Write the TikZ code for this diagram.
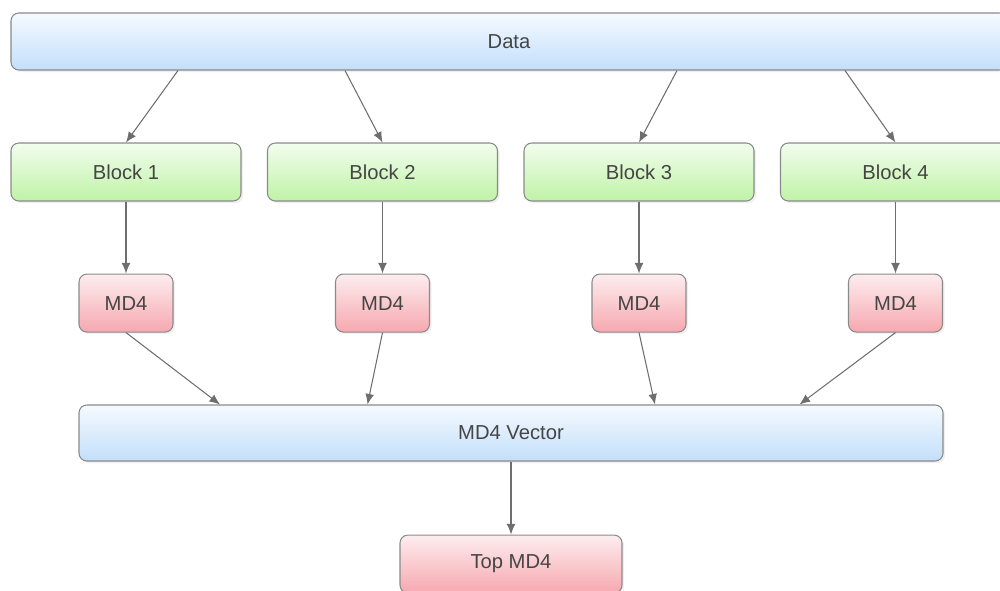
\documentclass[tikz,border=0pt]{standalone}
\usepackage{fontspec}
\setmainfont{Liberation Sans}
\usetikzlibrary{positioning,arrows.meta,shadows}

\definecolor{edgegray}{HTML}{6E6E6E}
\definecolor{boxline}{HTML}{8A8A8A}
\definecolor{textgray}{HTML}{454545}
\definecolor{bluetop}{HTML}{F5FAFF}
\definecolor{bluebot}{HTML}{C3DFFA}
\definecolor{greentop}{HTML}{F2FDEE}
\definecolor{greenbot}{HTML}{BFF3A6}
\definecolor{redtop}{HTML}{FDEDEF}
\definecolor{redbot}{HTML}{F6A8AF}

\tikzset{
  box/.style={draw=boxline, line width=0.6pt, rounded corners=4.5pt,
    inner sep=0pt, minimum height=1.16cm, text=textgray,
    font=\fontsize{11.5}{14}\selectfont,
    drop shadow={opacity=0.12, shadow xshift=1.2pt, shadow yshift=-1.2pt}},
  bluebox/.style={box, top color=bluetop, bottom color=bluebot},
  blockbox/.style={box, top color=greentop, bottom color=greenbot, minimum width=4.6cm},
  hashbox/.style={box, top color=redtop, bottom color=redbot, minimum width=1.88cm},
  link/.style={draw=edgegray, line width=0.6pt, -{Latex[length=6pt,width=5pt]}}
}

\begin{document}
\begin{tikzpicture}
  \useasboundingbox (0,0) rectangle (20,-11.8);

  % input data
  \node [bluebox, minimum width=19.92cm, minimum height=1.14cm](data) at (10.18,-0.83) {Data};

  % blocks
  \node [blockbox](b1) at (2.52,-3.44) {Block 1};
  \node [blockbox](b2) at (7.65,-3.44) {Block 2};
  \node [blockbox](b3) at (12.78,-3.44) {Block 3};
  \node [blockbox](b4) at (17.91,-3.44) {Block 4};

  % hashes of the blocks
  \node [hashbox, below = 1.44cm of b1](h1) {MD4};
  \node [hashbox, below = 1.44cm of b2](h2) {MD4};
  \node [hashbox, below = 1.44cm of b3](h3) {MD4};
  \node [hashbox, below = 1.44cm of b4](h4) {MD4};

  \node [bluebox, minimum width=17.28cm, minimum height=1.12cm](vec) at (10.22,-8.66) {MD4 Vector};
  \node [hashbox, minimum width=4.44cm, below = 1.46cm of vec](top) {Top MD4};

  % data -> blocks
  \draw [link] ([xshift=1.04cm]b1.north |- data.south) -- (b1.north);
  \draw [link] ([xshift=-0.75cm]b2.north |- data.south) -- (b2.north);
  \draw [link] ([xshift=0.76cm]b3.north |- data.south) -- (b3.north);
  \draw [link] ([xshift=-1.01cm]b4.north |- data.south) -- (b4.north);

  % blocks -> hashes
  \foreach \i in {1,...,4}
    \draw [link] (b\i) -- (h\i);

  % hashes -> vector
  \draw [link] (h1.south) -- ([xshift=1.88cm]h1.south |- vec.north);
  \draw [link] (h2.south) -- ([xshift=-0.30cm]h2.south |- vec.north);
  \draw [link] (h3.south) -- ([xshift=0.32cm]h3.south |- vec.north);
  \draw [link] (h4.south) -- ([xshift=-1.92cm]h4.south |- vec.north);

  \draw [link] (vec) -- (top);
\end{tikzpicture}
\end{document}
